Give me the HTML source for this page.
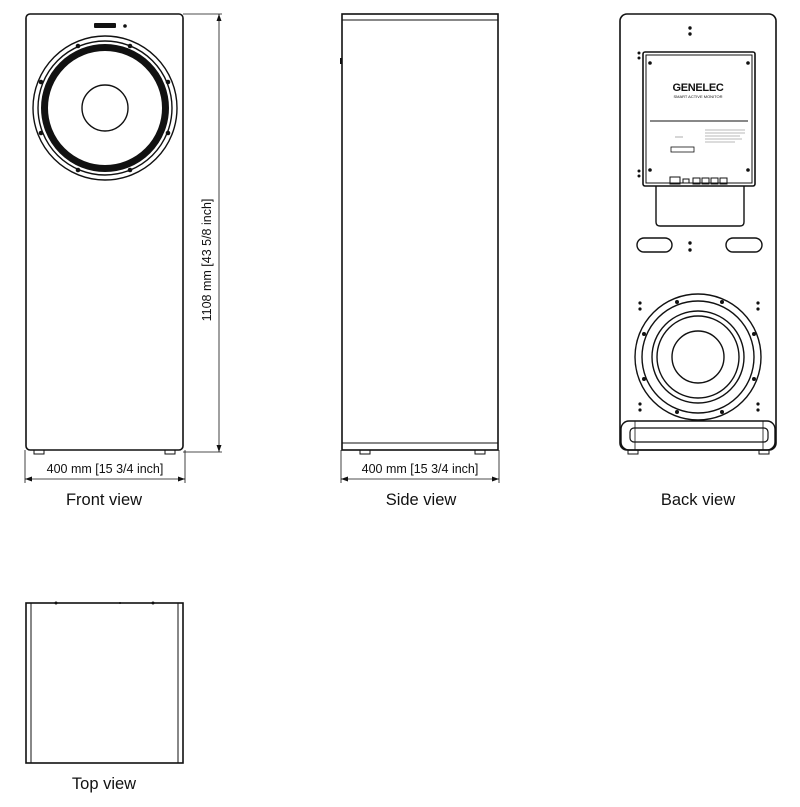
<!DOCTYPE html>
<html><head><meta charset="utf-8"><style>
body{margin:0;background:#fff}
svg{display:block;font-family:"Liberation Sans",sans-serif}
</style></head><body>
<svg width="800" height="807" viewBox="0 0 800 807" xmlns="http://www.w3.org/2000/svg">
<g fill="none" stroke="#111" stroke-width="1.6">
<!-- FRONT -->
<rect x="26" y="14" width="157" height="436" rx="4"/>
<rect x="34" y="450" width="10" height="4" stroke-width="1"/>
<rect x="165" y="450" width="10" height="4" stroke-width="1"/>
<circle cx="105" cy="108" r="72" stroke-width="1.4"/>
<circle cx="105" cy="108" r="67" stroke-width="1.4"/>
<circle cx="105" cy="108" r="60.5" stroke-width="7"/>
<circle cx="105" cy="108" r="23" stroke-width="1.4"/>
<!-- dims front -->
<g stroke-width="0.8">
<line x1="183" y1="14" x2="222" y2="14"/>
<line x1="183" y1="452" x2="222" y2="452"/>
<line x1="219" y1="14" x2="219" y2="452"/>
<line x1="25" y1="450" x2="25" y2="483"/>
<line x1="185" y1="450" x2="185" y2="483"/>
<line x1="25" y1="479" x2="185" y2="479"/>
<line x1="341" y1="450" x2="341" y2="483"/>
<line x1="499" y1="450" x2="499" y2="483"/>
<line x1="341" y1="479" x2="499" y2="479"/>
</g>
<!-- SIDE -->
<rect x="342" y="14" width="156" height="436"/>
<line x1="342" y1="20" x2="498" y2="20" stroke-width="1"/>
<line x1="342" y1="443" x2="498" y2="443" stroke-width="1"/>
<rect x="360" y="450" width="10" height="4" stroke-width="1"/>
<rect x="475" y="450" width="10" height="4" stroke-width="1"/>
<!-- BACK -->
<rect x="620" y="14" width="156" height="436" rx="7"/>
<rect x="643" y="52" width="112" height="134" rx="2"/>
<rect x="646" y="55" width="106" height="128" stroke-width="1"/>
<line x1="650" y1="121" x2="748" y2="121" stroke-width="1"/>
<rect x="671" y="147" width="23" height="5" stroke-width="0.8"/>
<path d="M656 186 V222 Q656 226 660 226 H740 Q744 226 744 222 V186" stroke-width="1.4"/>
<rect x="637" y="238" width="35" height="14" rx="7" stroke-width="1.4"/>
<rect x="726" y="238" width="36" height="14" rx="7" stroke-width="1.4"/>
<g stroke-width="1">
<rect x="670" y="177" width="10" height="7"/>
<rect x="683" y="179" width="6" height="4"/>
<rect x="693" y="178" width="7" height="6"/>
<rect x="702" y="178" width="7" height="6"/>
<rect x="711" y="178" width="7" height="6"/>
<rect x="720" y="178" width="7" height="6"/>
</g>
<circle cx="698" cy="357" r="63" stroke-width="1.4"/>
<circle cx="698" cy="357" r="56" stroke-width="1.4"/>
<circle cx="698" cy="357" r="46" stroke-width="1.4"/>
<circle cx="698" cy="357" r="41" stroke-width="1.4"/>
<circle cx="698" cy="357" r="26" stroke-width="1.4"/>
<rect x="621" y="421" width="154" height="29" rx="8" stroke-width="1.4"/>
<rect x="630" y="428" width="138" height="14" rx="4" stroke-width="1.2"/>
<line x1="635" y1="421" x2="635" y2="450" stroke-width="0.8"/>
<line x1="763" y1="421" x2="763" y2="450" stroke-width="0.8"/>
<rect x="628" y="450" width="10" height="4" stroke-width="1"/>
<rect x="759" y="450" width="10" height="4" stroke-width="1"/>
<!-- TOP -->
<rect x="26" y="603" width="157" height="160"/>
<line x1="31" y1="603" x2="31" y2="763" stroke-width="1"/>
<line x1="178" y1="603" x2="178" y2="763" stroke-width="1"/>
</g>
<g fill="#111">
<!-- front screws -->
<circle cx="78" cy="46" r="2.3"/><circle cx="130" cy="46" r="2.3"/>
<circle cx="41" cy="82" r="2.3"/><circle cx="168" cy="82" r="2.3"/>
<circle cx="41" cy="133" r="2.3"/><circle cx="168" cy="133" r="2.3"/>
<circle cx="78" cy="170" r="2.3"/><circle cx="130" cy="170" r="2.3"/>
<rect x="94" y="23" width="22" height="5" rx="1"/>
<circle cx="125" cy="26" r="1.8"/>
<rect x="340" y="58" width="2" height="6"/>
<!-- back dots -->
<circle cx="690" cy="28" r="1.7"/><circle cx="690" cy="34" r="1.7"/>
<circle cx="690" cy="243" r="1.7"/><circle cx="690" cy="250" r="1.7"/>
<circle cx="650" cy="63" r="1.8"/><circle cx="748" cy="63" r="1.8"/>
<circle cx="650" cy="170" r="1.8"/><circle cx="748" cy="170" r="1.8"/>
<circle cx="639" cy="53" r="1.5"/><circle cx="639" cy="58" r="1.5"/>
<circle cx="639" cy="171" r="1.5"/><circle cx="639" cy="176" r="1.5"/>
<circle cx="677" cy="302" r="2"/><circle cx="722" cy="302" r="2"/>
<circle cx="644" cy="334" r="2"/><circle cx="754" cy="334" r="2"/>
<circle cx="644" cy="379" r="2"/><circle cx="754" cy="379" r="2"/>
<circle cx="677" cy="412" r="2"/><circle cx="722" cy="412" r="2"/>
<circle cx="640" cy="303" r="1.6"/><circle cx="640" cy="309" r="1.6"/>
<circle cx="758" cy="303" r="1.6"/><circle cx="758" cy="309" r="1.6"/>
<circle cx="640" cy="404" r="1.6"/><circle cx="640" cy="410" r="1.6"/>
<circle cx="758" cy="404" r="1.6"/><circle cx="758" cy="410" r="1.6"/>
<circle cx="56" cy="603" r="1.5"/><circle cx="120" cy="603" r="1"/><circle cx="153" cy="603" r="1.5"/>
<!-- arrowheads -->
<path d="M219 14 l-2.5 7 h5z"/><path d="M219 452 l-2.5 -7 h5z"/>
<path d="M25 479 l7 -2.5 v5z"/><path d="M185 479 l-7 -2.5 v5z"/>
<path d="M341 479 l7 -2.5 v5z"/><path d="M499 479 l-7 -2.5 v5z"/>
</g>
<g fill="#111" text-anchor="middle">
<text x="698" y="91" font-size="11" font-weight="bold" letter-spacing="-0.3">GENELEC</text>
<text x="698" y="98" font-size="4">SMART ACTIVE MONITOR</text>
<text x="105" y="473" font-size="12.5">400 mm [15 3/4 inch]</text>
<text x="420" y="473" font-size="12.5">400 mm [15 3/4 inch]</text>
<text transform="translate(211,260) rotate(-90)" font-size="12.5">1108 mm [43 5/8 inch]</text>
<text x="104" y="505" font-size="16.5">Front view</text>
<text x="421" y="505" font-size="16.5">Side view</text>
<text x="698" y="505" font-size="16.5">Back view</text>
<text x="104" y="789" font-size="16.5">Top view</text>
</g>
<g stroke="#777" stroke-width="0.6">
<line x1="705" y1="130" x2="745" y2="130"/><line x1="705" y1="133" x2="745" y2="133"/>
<line x1="705" y1="136" x2="740" y2="136"/><line x1="705" y1="139" x2="742" y2="139"/>
<line x1="705" y1="142" x2="735" y2="142"/><line x1="675" y1="137" x2="683" y2="137"/>
</g>
</svg>
</body></html>
